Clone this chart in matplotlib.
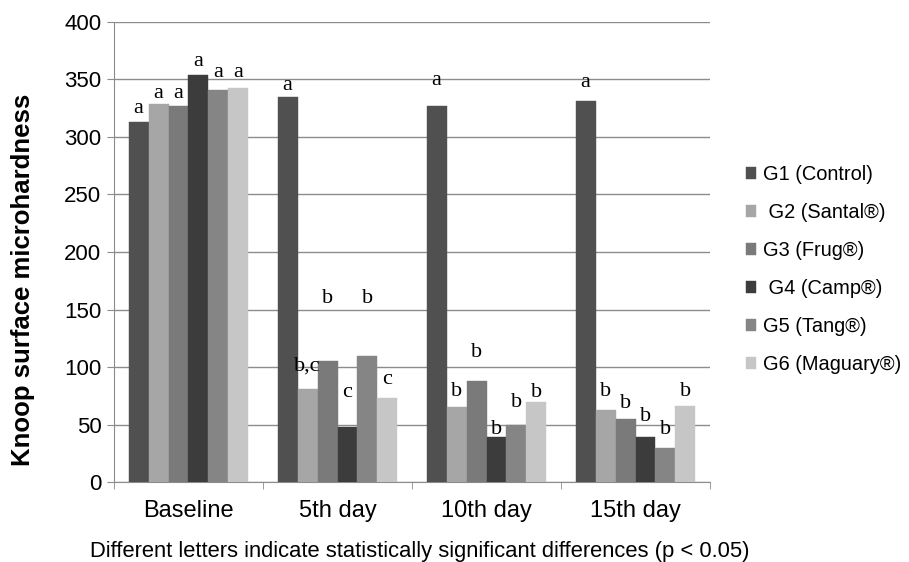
import matplotlib
matplotlib.use("Agg")
import matplotlib.pyplot as plt
import numpy as np

categories = ["Baseline", "5th day", "10th day", "15th day"]
groups = ["G1 (Control)", " G2 (Santal®)", "G3 (Frug®)", " G4 (Camp®)", "G5 (Tang®)", "G6 (Maguary®)"]
g1 = [313, 335, 327, 331]
g2 = [329, 81, 65, 63]
g3 = [327, 105, 88, 55]
g4 = [354, 48, 39, 39]
g5 = [341, 110, 50, 30]
g6 = [343, 73, 70, 66]
series = [g1, g2, g3, g4, g5, g6]
colors = ["#505050", "#a6a6a6", "#7a7a7a", "#3c3c3c", "#858585", "#c6c6c6"]

letters = [
    ["a", "a", "a", "a", "a", "a"],
    ["a", "b,c", "b", "c", "b", "c"],
    ["a", "b", "b", "b", "b", "b"],
    ["a", "b", "b", "b", "b", "b"],
]
letter_y = [
    [325, 338, 338, 366, 356, 356],
    [345, 101, 160, 78, 160, 89],
    [349, 79, 113, 46, 69, 78],
    [347, 79, 68, 57, 46, 79],
]

plt.rcParams['font.family'] = ['Liberation Sans', 'DejaVu Sans']
fig = plt.figure(figsize=(9.09, 5.62), dpi=100)
ax = fig.add_axes([0.1254, 0.1423, 0.6557, 0.8186])

n = len(groups)
x = np.arange(len(categories))
w = 0.134
for i, (vals, c, name) in enumerate(zip(series, colors, groups)):
    xs = x + (i - (n - 1) / 2) * w
    ax.bar(xs, vals, width=w, color=c, label=name, zorder=3, edgecolor=c, linewidth=0.3)
    for j in range(len(categories)):
        ax.text(xs[j], letter_y[j][i], letters[j][i], ha="center", va="center",
                fontsize=16, family=["Liberation Serif", "DejaVu Serif"], zorder=4)

ax.set_xlim(-0.5, len(categories) - 0.5)
ax.set_ylim(0, 400)
ax.set_yticks(np.arange(0, 401, 50))
ax.yaxis.grid(True, color="#8c8c8c", linewidth=1.0, zorder=0)
ax.set_xticks(x)
ax.set_xticklabels(categories, fontsize=17)
ax.set_xticks(np.arange(-0.5, len(categories), 1), minor=True)
ax.tick_params(axis="x", which="major", length=0, pad=13)
ax.tick_params(axis="x", which="minor", length=5, color="#8c8c8c", direction="out")
ax.tick_params(axis="y", length=5, color="#8c8c8c", labelsize=16, pad=4)
for s in ["top", "right"]:
    ax.spines[s].set_visible(False)
for s in ["left", "bottom"]:
    ax.spines[s].set_color("#8c8c8c")
ax.set_ylabel("Knoop surface microhardness", fontsize=18.5, fontweight="bold")
ax.yaxis.set_label_coords(-0.133, 0.44)
fig.text(0.462, 0.009, "Different letters indicate statistically significant differences (p < 0.05)",
         fontsize=15.8, ha="center", va="baseline")

leg = ax.legend(loc="center left", bbox_to_anchor=(1.03, 0.462), frameon=False,
                fontsize=14.4, handlelength=0.5, handleheight=0.5, handletextpad=0.35,
                labelspacing=0.95)

fig.savefig("out.png", dpi=100)
